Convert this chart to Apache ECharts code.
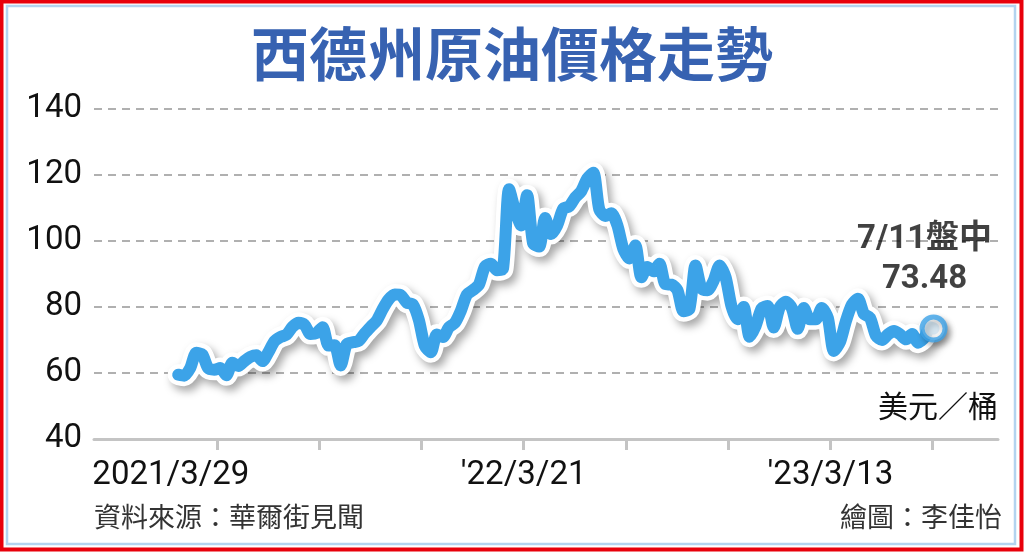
<!DOCTYPE html>
<html>
<head>
<meta charset="utf-8">
<style>
  html, body { margin: 0; padding: 0; background: #fff; }
  #chart { width: 1024px; height: 552px; }
</style>
<script src="https://cdn.jsdelivr.net/npm/echarts@6/dist/echarts.min.js"></script>
</head>
<body>
<div id="chart"></div>
<script>
// 每週收盤價，從 2021/2/12 起每 7 天一筆，最後一筆為 7/11 盤中
const firstWeek = '2021-02-12';
const lastDate = '2023-07-11';
const weeklyPrices = [
  59.5, 59.2, 61.5, 66.1, 65.6, 61.4, 61.0, 61.5, 59.3, 63.1, 62.1, 63.6,
  64.9, 65.4, 63.6, 66.3, 69.6, 70.9, 71.6, 74.0, 75.2, 74.6, 71.8, 72.1,
  73.9, 68.3, 68.4, 62.3, 68.7, 69.3, 69.7, 72.0, 74.0, 75.9, 79.4, 82.3,
  83.8, 83.6, 81.3, 80.8, 76.1, 68.2, 66.3, 71.7, 70.9, 73.8, 75.2,
  78.9, 83.8, 85.1, 86.8, 92.3, 93.1, 91.1, 91.6, 115.7, 109.3, 104.7, 113.9,
  99.3, 98.3, 107.0, 102.1, 104.7, 109.8, 110.5, 113.2, 115.1, 118.9, 120.7,
  109.6, 107.6, 108.4, 104.8, 97.6, 94.7, 98.6, 89.0, 92.1, 90.8, 93.1, 86.9,
  86.8, 85.1, 78.7, 79.5, 92.6, 85.6, 85.1, 87.9, 92.6, 89.0, 80.1, 76.3,
  80.0, 71.0, 74.3, 79.6, 80.3,
  73.8, 79.9, 81.6, 79.7, 73.4, 79.7, 76.3, 76.3, 79.7, 76.7, 66.7, 69.3,
  75.7, 80.7, 82.5, 77.9, 76.8, 71.3, 70.0, 71.7, 72.7, 71.7, 70.2, 71.8,
  69.2, 70.6, 73.9
];
const lastPrice = 73.48;
// x 軸刻度（基準日 2021/3/29，每 17 週一格）
const baseDate = '2021-03-29';
const tickDates = ['2021-03-29', '2021-07-26', '2021-11-22', '2022-03-21',
  '2022-07-18', '2022-11-14', '2023-03-13', '2023-07-10'];
const labelDates = ['2021-03-29', '2022-03-21', '2023-03-13'];
const labelTexts = ['2021/3/29', "'22/3/21", "'23/3/13"];
const axisStart = '2020-11-06';
const axisEnd = '2023-09-24';
const yTicks = [40, 60, 80, 100, 120, 140];

const DAY = 86400000;
function dayOf(s) {
  return Math.round((Date.parse(s) - Date.parse(baseDate)) / DAY);
}
const start0 = dayOf(firstWeek);
const lineData = weeklyPrices.map((v, i) => [start0 + i * 7, v]);
lineData.push([dayOf(lastDate), lastPrice]);
const tickValues = tickDates.map(dayOf);
const labelValues = labelDates.map(dayOf);

const BLUE = '#3ca3e8';
const FONT = 'Roboto, "Noto Sans CJK TC", sans-serif';
const CJK = '"Noto Sans CJK TC", "Noto Sans", sans-serif';

var myChart = echarts.init(document.getElementById('chart'));
var option = {
  backgroundColor: '#fff',
  animation: false,
  title: {
    text: '西德州原油價格走勢',
    left: 'center',
    top: 20,
    textStyle: { fontFamily: CJK, fontSize: 58, fontWeight: 'bold', color: '#3762b1' }
  },
  grid: { left: 94, right: 26, top: 109, bottom: 113 },
  xAxis: {
    type: 'value',
    min: dayOf(axisStart),
    max: dayOf(axisEnd),
    splitLine: { show: false },
    axisLine: { show: true, lineStyle: { color: '#c4c4c4', width: 3 } },
    axisTick: {
      show: true, customValues: tickValues, length: 11,
      lineStyle: { color: '#c4c4c4', width: 3 }
    },
    axisLabel: {
      customValues: labelValues,
      margin: 20,
      formatter: function (v) {
        var i = labelValues.indexOf(v);
        if (i === 0) return '{first|' + labelTexts[0] + '}';
        return i >= 0 ? labelTexts[i] : '';
      },
      fontFamily: FONT, fontSize: 33, color: '#111',
      rich: { first: { fontFamily: FONT, fontSize: 33, color: '#111', padding: [0, 92, 0, 0] } }
    }
  },
  yAxis: {
    type: 'value',
    min: yTicks[0],
    max: yTicks[yTicks.length - 1],
    interval: 20,
    axisLine: { show: false },
    axisTick: { show: false },
    axisLabel: { margin: 12, fontFamily: FONT, fontSize: 33, color: '#111' },
    splitLine: {
      show: true,
      lineStyle: { color: '#b0b0b0', width: 2, type: [8, 6] }
    }
  },
  series: [
    {
      // 白色外框與陰影
      type: 'line',
      data: lineData,
      showSymbol: false,
      smooth: 0.25,
      z: 2,
      lineStyle: {
        color: '#fff', width: 21, join: 'round', cap: 'round',
        shadowColor: 'rgba(0,0,0,0.35)', shadowBlur: 8, shadowOffsetX: 4, shadowOffsetY: 5
      }
    },
    {
      type: 'line',
      data: lineData,
      showSymbol: false,
      smooth: 0.25,
      z: 3,
      lineStyle: { color: BLUE, width: 12, join: 'round', cap: 'round' }
    },
    {
      type: 'scatter',
      data: [lineData[lineData.length - 1]],
      z: 4,
      symbolSize: 23,
      itemStyle: {
        color: '#fff', borderColor: BLUE, borderWidth: 5,
        shadowColor: 'rgba(0,0,0,0.3)', shadowBlur: 6, shadowOffsetX: 3, shadowOffsetY: 4
      },
      label: {
        show: true,
        position: 'top',
        distance: 15,
        offset: [-9, 0],
        formatter: function () { return '7/11盤中\n' + lastPrice.toFixed(2); },
        fontFamily: FONT, fontSize: 33, fontWeight: 'bold', color: '#111',
        lineHeight: 40, align: 'center'
      }
    }
  ],
  graphic: [
    { type: 'rect', shape: { x: 1.5, y: 1.5, width: 1020, height: 548 },
      style: { fill: 'none', stroke: '#e8000b', lineWidth: 4 }, z: 100 },
    { type: 'rect', shape: { x: 7, y: 6, width: 1008, height: 538 },
      style: { fill: 'none', stroke: '#b3d3ef', lineWidth: 2.5 }, z: 100 },
    { type: 'text', right: 26, top: 391,
      style: { text: '美元／桶', font: '30px ' + CJK, fill: '#111' } },
    { type: 'text', left: 94, top: 503,
      style: { text: '資料來源：華爾街見聞', font: '27px ' + CJK, fill: '#333' } },
    { type: 'text', right: 22, top: 503,
      style: { text: '繪圖：李佳怡', font: '27px ' + CJK, fill: '#333' } }
  ]
};
option && myChart.setOption(option);
</script>
</body>
</html>
